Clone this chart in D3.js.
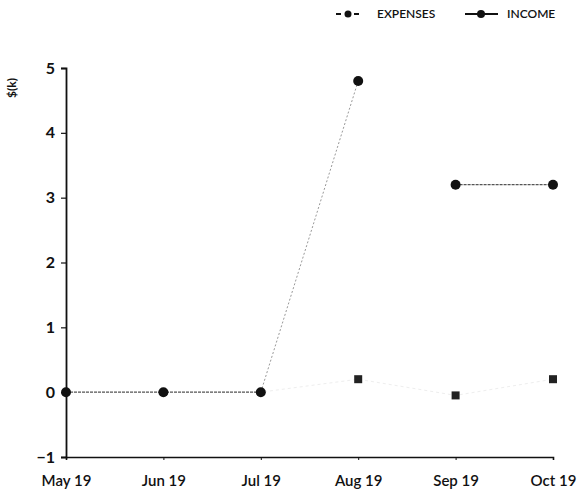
<!DOCTYPE html>
<html><head><meta charset="utf-8">
<script src="https://cdn.jsdelivr.net/npm/d3@7"></script>
<style>body{margin:0;background:#fff}svg{display:block}</style>
</head><body>
<svg id="c" width="582" height="499"></svg>
<script>
const categories = ["May 19","Jun 19","Jul 19","Aug 19","Sep 19","Oct 19"];
const income = [0, 0, 0, 4.8, 3.2, 3.2];
const expenses = [0, 0, 0, 0.2, -0.05, 0.2];
const yTicks = [-1, 0, 1, 2, 3, 4, 5];

const svg = d3.select("#c");
const font = "Lato, 'Open Sans', sans-serif";
const x = d3.scalePoint().domain(categories).range([66, 553]);
const y = d3.scaleLinear().domain([-1, 5]).range([457, 68]);

// axes
const yAxis = svg.append("g").attr("transform","translate(66,0)")
  .call(d3.axisLeft(y).tickValues(yTicks).tickSize(5).tickPadding(6).tickFormat(d3.format("d")));
yAxis.select(".domain").attr("stroke","#111").attr("stroke-width",1.8);
yAxis.selectAll(".tick line").attr("stroke","#111").attr("stroke-width",1.2);
yAxis.selectAll("text").attr("font-family",font).attr("font-size",16).attr("font-weight","bold").attr("fill","#111");

const xAxis = svg.append("g").attr("transform","translate(0,457)")
  .call(d3.axisBottom(x).tickSize(3).tickPadding(15));
xAxis.select(".domain").attr("stroke","#111").attr("stroke-width",1.6);
xAxis.selectAll(".tick line").attr("stroke","#111");
xAxis.selectAll("text").attr("font-family",font).attr("font-size",15).attr("font-weight","600").attr("fill","#111");

svg.append("text").attr("transform","translate(16,88) rotate(-90)").attr("text-anchor","middle")
  .attr("font-family",font).attr("font-size",12).attr("font-weight","bold").attr("fill","#111").text("$(k)");

// lines
const idx = categories.map((c,i)=>i);
const line = d3.line().x(i=>x(categories[i])).y(i=>y(income[i]));
const eline = d3.line().x(i=>x(categories[i])).y(i=>y(expenses[i]));
svg.append("path").attr("d", eline(idx)).attr("fill","none").attr("stroke","#eeeeee").attr("stroke-width",1).attr("stroke-dasharray","3,3");
svg.append("path").attr("d", line(idx.slice(0,3))).attr("fill","none").attr("stroke","#555").attr("stroke-width",1.3).attr("stroke-dasharray","3,1");
svg.append("path").attr("d", line(idx.slice(2,4))).attr("fill","none").attr("stroke","#999").attr("stroke-width",1).attr("stroke-dasharray","2,2");
svg.append("path").attr("d", line(idx.slice(4,6))).attr("fill","none").attr("stroke","#555").attr("stroke-width",1.3).attr("stroke-dasharray","3,1");

// markers
svg.selectAll("rect.exp").data(idx.slice(3)).enter().append("rect")
  .attr("x", i=>x(categories[i])-4).attr("y", i=>y(expenses[i])-4)
  .attr("width",8).attr("height",8).attr("fill","#222");
svg.selectAll("circle.inc").data(idx).enter().append("circle")
  .attr("cx", i=>x(categories[i])).attr("cy", i=>y(income[i])).attr("r",5).attr("fill","#111");

// legend
const lg = svg.append("g");
lg.append("line").attr("x1",336).attr("x2",360).attr("y1",14).attr("y2",14).attr("stroke","#111").attr("stroke-width",2).attr("stroke-dasharray","5,4");
lg.append("circle").attr("cx",348).attr("cy",14).attr("r",3.5).attr("fill","#111");
lg.append("text").attr("x",377).attr("y",18).attr("font-family",font).attr("font-size",12).attr("font-weight","600").attr("fill","#111").text("EXPENSES");
lg.append("line").attr("x1",465).attr("x2",498).attr("y1",14).attr("y2",14).attr("stroke","#111").attr("stroke-width",2);
lg.append("circle").attr("cx",481).attr("cy",14).attr("r",4).attr("fill","#111");
lg.append("text").attr("x",507).attr("y",18).attr("font-family",font).attr("font-size",12).attr("font-weight","600").attr("fill","#111").text("INCOME");
</script>
</body></html>
